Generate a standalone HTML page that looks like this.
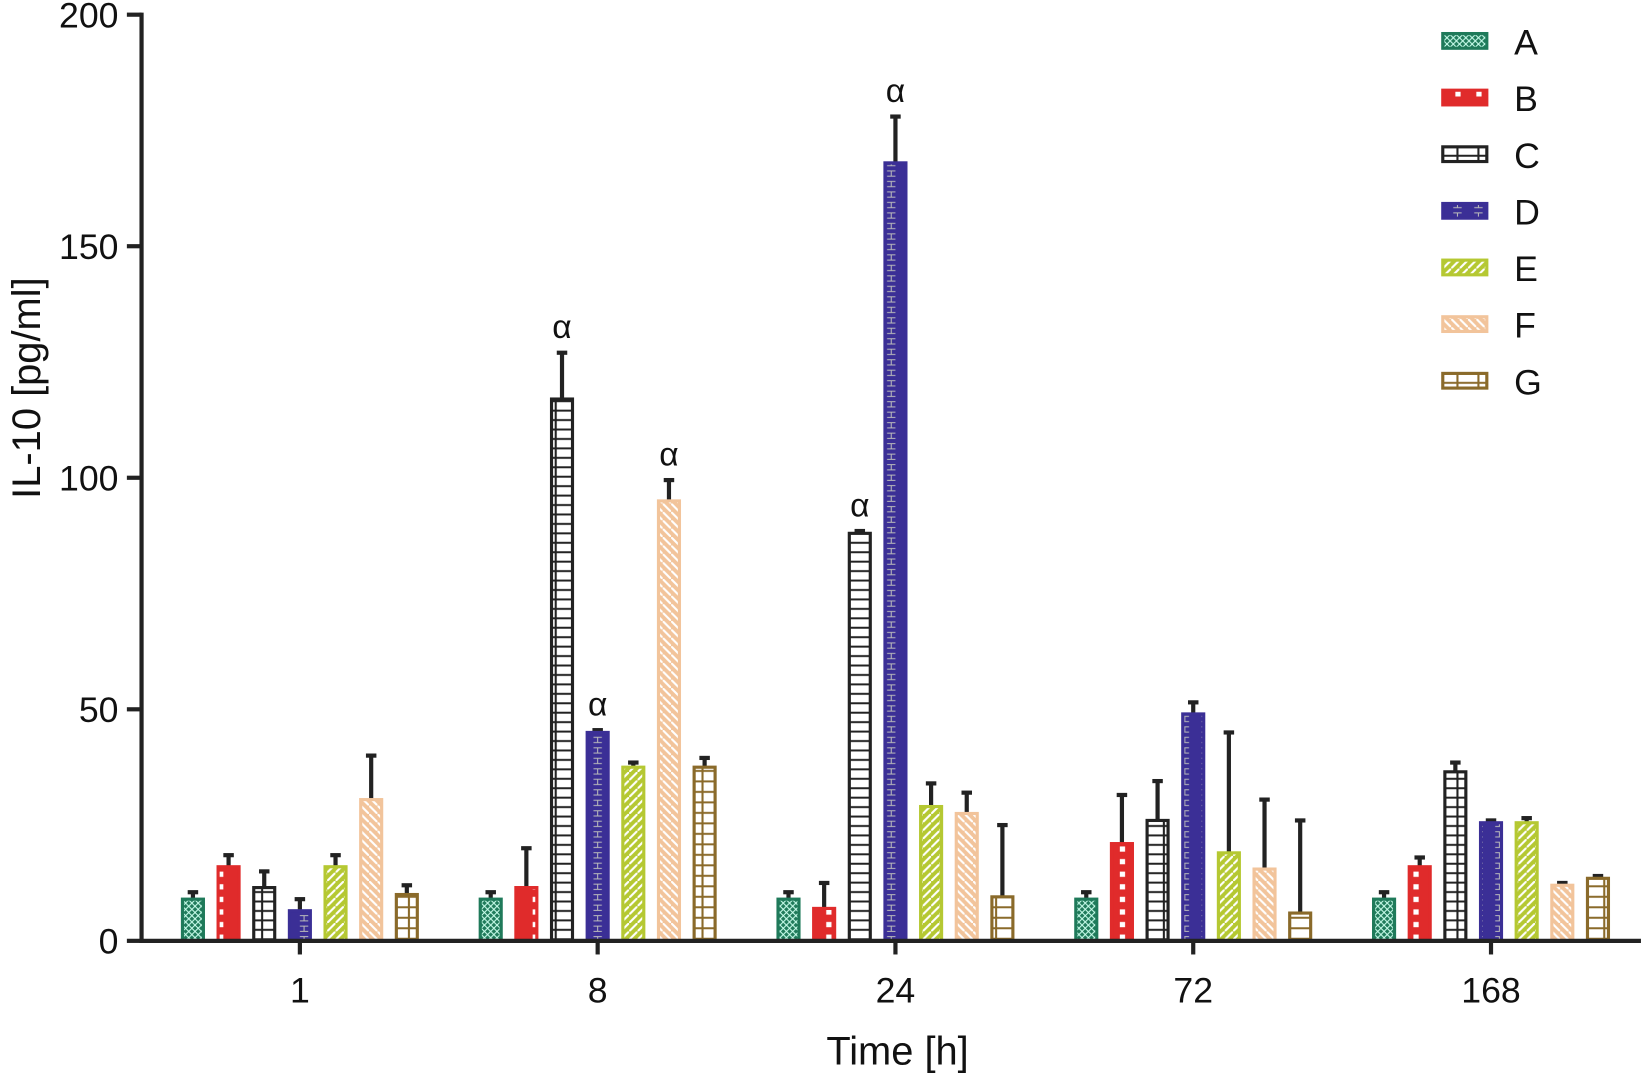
<!DOCTYPE html>
<html><head><meta charset="utf-8"><style>
html,body{margin:0;padding:0;background:#fff;}
svg text{font-family:"Liberation Sans",sans-serif;fill:#111;}
</style></head><body>
<svg id="chart" width="1642" height="1073" viewBox="0 0 1566 1023" preserveAspectRatio="none" xmlns="http://www.w3.org/2000/svg">
<defs>
<pattern id="pA" width="6" height="6" patternUnits="userSpaceOnUse"><rect width="6" height="6" fill="#1f7a5a"/><path d="M0 0L6 6M6 0L0 6" stroke="#cfe" stroke-width="1"/></pattern>
<pattern id="pB" width="20" height="12" patternUnits="userSpaceOnUse"><rect width="20" height="12" fill="#e02b2b"/><rect x="8" y="3" width="5" height="5" fill="#fff"/></pattern>
<pattern id="pC" width="20" height="9" patternUnits="userSpaceOnUse"><rect width="20" height="9" fill="#fff"/><line x1="0" y1="4.5" x2="20" y2="4.5" stroke="#222" stroke-width="2"/><line x1="10" y1="0" x2="10" y2="9" stroke="#222" stroke-width="2"/></pattern>
<pattern id="pD" width="20" height="10" patternUnits="userSpaceOnUse"><rect width="20" height="10" fill="#3b2f96"/><path d="M6 3H14M10 3V8M6 8H14" stroke="#bbb" stroke-width="1"/></pattern>
<pattern id="pE" width="8" height="8" patternUnits="userSpaceOnUse"><rect width="8" height="8" fill="#b5c832"/><path d="M0 8L8 0" stroke="#fff" stroke-width="2"/></pattern>
<pattern id="pF" width="8" height="8" patternUnits="userSpaceOnUse"><rect width="8" height="8" fill="#f2c49b"/><path d="M0 0L8 8" stroke="#fff" stroke-width="2"/></pattern>
<pattern id="pG" width="20" height="10" patternUnits="userSpaceOnUse"><rect width="20" height="10" fill="#fff"/><line x1="0" y1="5" x2="20" y2="5" stroke="#8a6a2a" stroke-width="2"/><line x1="10" y1="0" x2="10" y2="10" stroke="#8a6a2a" stroke-width="2"/></pattern>
</defs>
<g id="marks"></g>
<g id="axes"></g>
</svg>
<script>
const categories = ["1","8","24","72","168"];
const seriesNames = ["A","B","C","D","E","F","G"];
const valA = [9,9,9,9,9];
const errA = [10.5,10.5,10.5,10.5,10.5];
const valB = [16,11.5,7,21,16];
const errB = [18.5,20,12.5,31.5,18];
const valC = [11.5,117,88,26,36.5];
const errC = [15,127,88.5,34.5,38.5];
const valD = [6.5,45,168,49,25.5];
const errD = [9,45.5,178,51.5,26];
const valE = [16,37.5,29,19,25.5];
const errE = [18.5,38.5,34,45,26.5];
const valF = [30.5,95,27.5,15.5,12];
const errF = [40,99.5,32,30.5,12.5];
const valG = [10,37.5,9.5,6,13.5];
const errG = [12,39.5,25,26,14];
const yTicks = [0,50,100,150,200];
const alphaMarks = [["C","8"],["D","8"],["F","8"],["C","24"],["D","24"]];

const NS="http://www.w3.org/2000/svg";
const vals=[valA,valB,valC,valD,valE,valF,valG], errs=[errA,errB,errC,errD,errE,errF,errG];
const strokes=["#1f7a5a","#e02b2b","#222","#3b2f96","#b5c832","#f2c49b","#8a6a2a"];
const y0=897,y1=14,xL=135,xR=1565;
const y=v=>y0-(v/200)*(y0-y1);
const gx=i=>286+i*284;
const bx=(i,s)=>gx(i)+(s-3)*34;
const bw=20;
function el(t,a,p){const e=document.createElementNS(NS,t);for(const k in a)e.setAttribute(k,a[k]);(p||document.getElementById('marks')).appendChild(e);return e;}
const marks=document.getElementById('marks'), axes=document.getElementById('axes');
seriesNames.forEach((s,si)=>{
  categories.forEach((c,ci)=>{
    const cx=bx(ci,si), v=vals[si][ci], e=errs[si][ci];
    const ln=el('line',{x1:cx,x2:cx,y1:y(v),y2:y(e),stroke:'#222','stroke-width':4});
    
    
    const cap=el('line',{x1:cx-5,x2:cx+5,y1:y(e),y2:y(e),stroke:'#222','stroke-width':4});
    
    
    const r=el('rect',{x:cx-bw/2,y:y(v),width:bw,height:y0-y(v),fill:'url(#p'+s+')',stroke:strokes[si],'stroke-width':3});
    
    
  });
});
alphaMarks.forEach(([s,c])=>{
  const si=seriesNames.indexOf(s), ci=categories.indexOf(c);
  const t=el('text',{x:bx(ci,si),y:y(errs[si][ci])-14,'text-anchor':'middle','font-size':32});
  t.textContent='α';
  
  
});
const ya=el('line',{x1:xL,x2:xL,y1:y1-2,y2:y0+2,stroke:'#222','stroke-width':4},axes);


const xa=el('line',{x1:xL-2,x2:xR,y1:y0,y2:y0,stroke:'#222','stroke-width':4},axes);


yTicks.forEach(v=>{
  const tk=el('line',{x1:xL-14,x2:xL,y1:y(v),y2:y(v),stroke:'#222','stroke-width':4},axes);
  
  
  const t=el('text',{x:xL-22,y:y(v)+12,'text-anchor':'end','font-size':34},axes);
  t.textContent=v;
  
  
});
categories.forEach((c,ci)=>{
  const tk=el('line',{x1:gx(ci),x2:gx(ci),y1:y0,y2:y0+13,stroke:'#222','stroke-width':4},axes);
  
  
  const t=el('text',{x:gx(ci),y:956,'text-anchor':'middle','font-size':34},axes);
  t.textContent=c;
  
  
});
const xt=el('text',{x:856,y:1015,'text-anchor':'middle','font-size':38},axes);
xt.textContent='Time [h]';


const yt=el('text',{x:0,y:0,'text-anchor':'middle','font-size':38,transform:'translate(38,370) rotate(-90)'},axes);
yt.textContent='IL-10 [pg/ml]';


seriesNames.forEach((s,si)=>{
  const ly=40+si*54;
  const g=el('g',{},axes);
  
  
  el('rect',{x:1376,y:ly-8,width:42,height:14,fill:'url(#p'+s+')',stroke:strokes[si],'stroke-width':3},g);
  const t=el('text',{x:1444,y:ly+12,'font-size':34},g);
  t.textContent=s;
});
</script>
</body></html>
